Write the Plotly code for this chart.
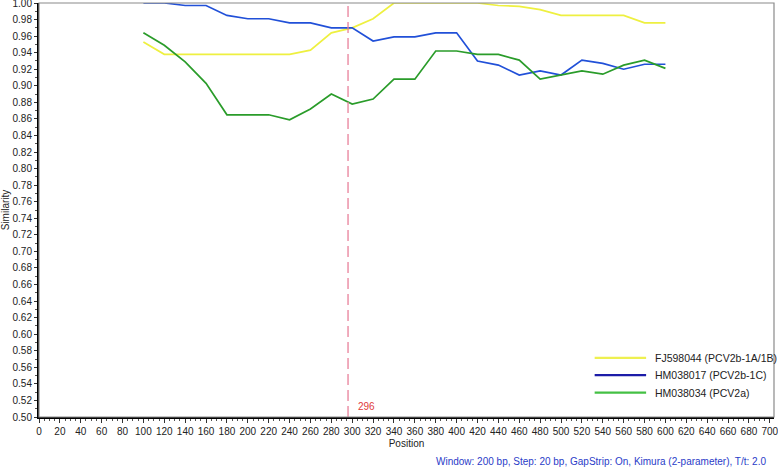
import plotly.graph_objects as go

# window midpoints (bp)
positions = [100, 120, 140, 160, 180, 200, 220, 240, 260, 280, 300, 320, 340,
             360, 380, 400, 420, 440, 460, 480, 500, 520, 540, 560, 580, 600]

fj598044 = [0.953, 0.938, 0.938, 0.938, 0.938, 0.938, 0.938, 0.938, 0.943, 0.964,
            0.970, 0.981, 1.000, 1.000, 1.000, 1.000, 1.000, 0.997, 0.996, 0.992,
            0.985, 0.985, 0.985, 0.985, 0.976, 0.976]
hm038017 = [1.000, 1.000, 0.997, 0.997, 0.985, 0.981, 0.981, 0.976, 0.976, 0.970,
            0.970, 0.954, 0.959, 0.959, 0.964, 0.964, 0.930, 0.925, 0.913, 0.918,
            0.913, 0.931, 0.927, 0.920, 0.926, 0.926]
hm038034 = [0.964, 0.949, 0.929, 0.903, 0.865, 0.865, 0.865, 0.859, 0.872, 0.890,
            0.878, 0.884, 0.908, 0.908, 0.942, 0.942, 0.938, 0.938, 0.931, 0.908,
            0.913, 0.918, 0.914, 0.925, 0.931, 0.921]

series_names = ["FJ598044 (PCV2b-1A/1B)", "HM038017 (PCV2b-1C)", "HM038034 (PCV2a)"]
line_colors = ["#eef040", "#2150d8", "#2a9c2a"]
legend_colors = ["#eef050", "#1c1ca8", "#44c044"]

breakpoint = 296
footer = "Window: 200 bp, Step: 20 bp, GapStrip: On, Kimura (2-parameter), T/t: 2.0"

FONT = "Liberation Sans, Arial, sans-serif"

fig = go.Figure()
for name, ys, col in zip(series_names, [fj598044, hm038017, hm038034], line_colors):
    fig.add_trace(go.Scatter(x=positions, y=ys, mode="lines", name=name,
                             line=dict(color=col, width=1.7), showlegend=False))

fig.add_vline(x=breakpoint, line=dict(color="#e8809a", width=1.3, dash="11px,5px"))
fig.add_annotation(x=breakpoint, y=0.5, xref="x", yref="y", text=str(breakpoint),
                   showarrow=False, xanchor="left", yanchor="bottom",
                   xshift=8, yshift=3, font=dict(color="#e03a3a", size=10, family=FONT))

# frame: grey top/right border
fig.add_shape(type="rect", xref="paper", yref="paper", x0=0, x1=1, y0=0, y1=1,
              line=dict(color="#8a8a8a", width=1.2), layer="above")

# legend drawn in the lower right corner
for i, (name, col) in enumerate(zip(series_names, legend_colors)):
    yy = 0.143 - i * 0.042
    fig.add_shape(type="line", xref="paper", yref="paper", x0=0.756, x1=0.826,
                  y0=yy, y1=yy, line=dict(color=col, width=2.2))
    fig.add_annotation(xref="paper", yref="paper", x=0.835, y=yy, text=name,
                       showarrow=False, xanchor="left", yanchor="middle",
                       font=dict(size=10.5, color="#222", family=FONT))

fig.add_annotation(xref="paper", yref="paper", x=0.992, y=-0.108, text=footer,
                   showarrow=False, xanchor="right", yanchor="middle",
                   font=dict(size=10, color="#2a3cc8", family=FONT))

fig.update_xaxes(range=[0, 704], tick0=0, dtick=20, ticks="outside", ticklen=4,
                 tickcolor="#333", showgrid=False, zeroline=False, automargin=False,
                 ticklabeloverflow="allow",
                 showline=True, linecolor="#000", linewidth=2,
                 minor=dict(dtick=5, ticks="outside", ticklen=2, tickcolor="#555", showgrid=False),
                 tickfont=dict(size=10, color="#222", family=FONT),
                 title=dict(text="Position", font=dict(size=10, color="#222", family=FONT), standoff=4))
fig.update_yaxes(range=[0.5, 1.0], tick0=0.5, dtick=0.02, tickformat=".2f",
                 ticks="outside", ticklen=3, tickcolor="#333", showgrid=False, zeroline=False,
                 automargin=False, ticklabeloverflow="allow",
                 showline=True, linecolor="#000", linewidth=2,
                 minor=dict(dtick=0.01, ticks="outside", ticklen=2, tickcolor="#555", showgrid=False),
                 tickfont=dict(size=10, color="#222", family=FONT),
                 title=dict(text="Similarity", font=dict(size=10, color="#222", family=FONT), standoff=2))

fig.update_layout(
    width=778, height=469,
    margin=dict(l=39, r=4, t=3, b=52),
    paper_bgcolor="white", plot_bgcolor="white",
    font=dict(family=FONT),
    showlegend=False,
)

# the page body has a default 8px margin; drop it so the figure sits at 0,0
fig.write_html("out.html", config={"displayModeBar": False},
               post_script="document.body.style.margin='0';")
